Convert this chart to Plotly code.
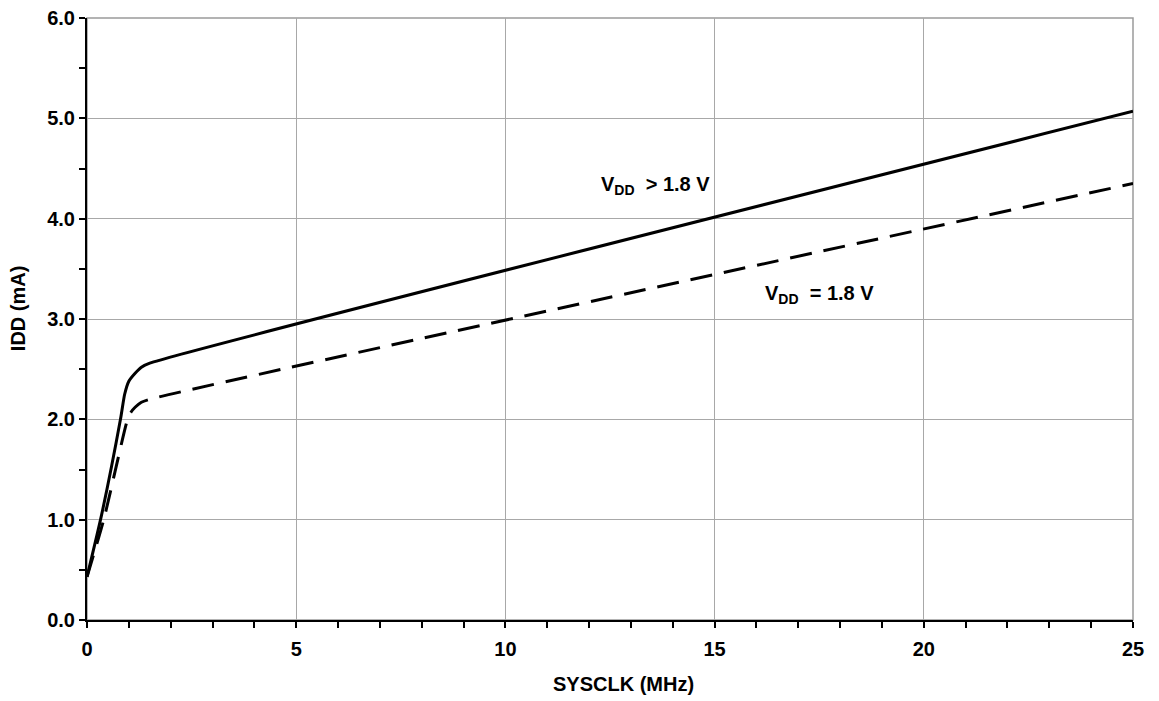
import plotly.graph_objects as go

# Data
sysclk_hi = [0.0, 0.35, 0.8, 0.9, 1.0, 1.15, 1.3, 1.5, 25.0]
idd_hi = [0.43, 1.05, 2.0, 2.25, 2.38, 2.46, 2.52, 2.56, 5.07]

sysclk_18 = [0.0, 0.4, 0.97, 1.05, 1.15, 1.3, 1.5, 25.0]
idd_18 = [0.43, 1.0, 2.0, 2.07, 2.12, 2.17, 2.2, 4.35]

label_hi = "V<sub>DD</sub>  > 1.8 V"
label_18 = "V<sub>DD</sub>  = 1.8 V"
x_title = "SYSCLK (MHz)"
y_title = "IDD (mA)"

FONT = "Liberation Sans, Arial, sans-serif"
FS = 20

fig = go.Figure()
fig.add_trace(go.Scatter(x=sysclk_hi, y=idd_hi, mode="lines",
                         line=dict(color="black", width=3, shape="spline", smoothing=0.6),
                         showlegend=False))
fig.add_trace(go.Scatter(x=sysclk_18, y=idd_18, mode="lines",
                         line=dict(color="black", width=3, dash="22px,12px", shape="spline", smoothing=0.6),
                         showlegend=False))

fig.add_annotation(x=13.59, y=4.33, text=label_hi, showarrow=False,
                   font=dict(family=FONT, size=FS, color="black", weight="bold"))
fig.add_annotation(x=17.5, y=3.24, text=label_18, showarrow=False,
                   font=dict(family=FONT, size=FS, color="black", weight="bold"))

# axis titles placed as paper annotations
fig.add_annotation(xref="paper", yref="paper", x=0.513, y=-0.106, yanchor="middle", xanchor="center",
                   text=x_title, showarrow=False,
                   font=dict(family=FONT, size=FS, color="black", weight="bold"))
fig.add_annotation(xref="paper", yref="paper", x=-0.066, y=0.518, xanchor="center", yanchor="middle",
                   text=y_title, showarrow=False, textangle=-90,
                   font=dict(family=FONT, size=FS, color="black", weight="bold"))

# grey frame on top/right
fig.add_shape(type="rect", xref="paper", yref="paper", x0=0, y0=0, x1=1, y1=1,
              line=dict(color="#9a9a9a", width=1.5), layer="below")

# page body has an 8px margin, so the figure is offset by 8px
fig.update_layout(
    width=1143, height=690,
    margin=dict(l=79, r=18, t=10, b=78, autoexpand=False),
    plot_bgcolor="white", paper_bgcolor="white",
    font=dict(family=FONT, color="black"),
    xaxis=dict(range=[0, 25], dtick=5, tick0=0, showgrid=True, gridcolor="#a8a8a8", gridwidth=1,
               showline=True, linecolor="black", linewidth=2, ticks="outside", ticklen=6,
               tickwidth=2, tickcolor="black", zeroline=False, automargin=False,
               ticklabeloverflow="allow", ticklabelstandoff=4,
               tickfont=dict(family=FONT, size=FS, color="black", weight="bold"),
               minor=dict(dtick=1, ticks="outside", ticklen=6, tickwidth=2, tickcolor="black", showgrid=False)),
    yaxis=dict(range=[0, 6], dtick=1, tick0=0, tickformat=".1f", showgrid=True, gridcolor="#a8a8a8",
               gridwidth=1, showline=True, linecolor="black", linewidth=2, ticks="outside", ticklen=6,
               tickwidth=2, tickcolor="black", zeroline=False, automargin=False,
               ticklabeloverflow="allow",
               tickfont=dict(family=FONT, size=FS, color="black", weight="bold"),
               minor=dict(dtick=0.5, ticks="outside", ticklen=6, tickwidth=2, tickcolor="black", showgrid=False)),
)

fig.write_html("out.html")
